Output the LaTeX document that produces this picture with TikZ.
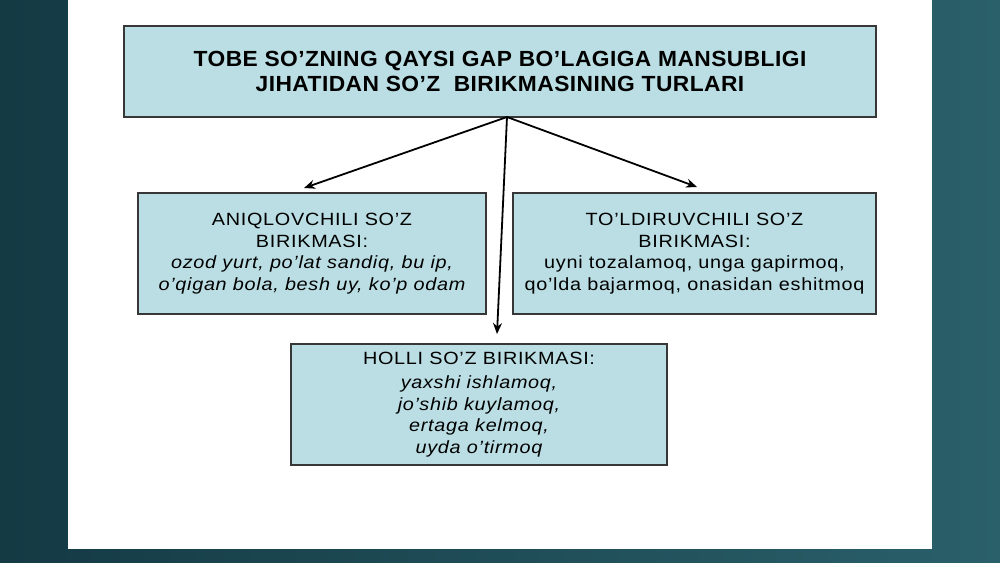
\documentclass[tikz,border=0pt]{standalone}
\usepackage{fontspec}
\setmainfont{Liberation Sans}
\newfontfamily\titlefam[FakeStretch=1.04,LetterSpace=2]{Liberation Sans}
\newfontfamily\bodyfam[FakeStretch=1.12,LetterSpace=4]{Liberation Sans}
\usetikzlibrary{arrows.meta}
\definecolor{boxfill}{RGB}{186,222,227}
\definecolor{boxline}{RGB}{55,55,55}
\definecolor{bgdark}{RGB}{20,58,68}
\definecolor{bglight}{RGB}{42,96,106}
\tikzset{
  box/.style={draw=boxline, line width=1.1pt, fill=boxfill, align=center, inner sep=0pt, text=black},
  bodyfont/.style={font=\bodyfam\fontsize{17.7}{21.5}\selectfont},
  conn/.style={draw=black, line width=1.8pt, -{Stealth[length=11pt,width=9pt]}}
}
\begin{document}
\begin{tikzpicture}[x=1pt,y=-1pt]
\useasboundingbox (0,0) rectangle (1000,562);
\shade[left color=bgdark, right color=bglight] (0,0) rectangle (1000,562);
\fill[white] (68,0) rectangle (932,549);
\node[box, minimum width=752pt, minimum height=91pt, font=\titlefam\fontsize{21.9}{25}\selectfont\bfseries] (top) at (500,71.5)
  {TOBE SO’ZNING QAYSI GAP BO’LAGIGA MANSUBLIGI\\ JIHATIDAN SO’Z\ \ BIRIKMASINING TURLARI};
\node[box, bodyfont, minimum width=348pt, minimum height=121pt] (left) at (312,253.5)
  {ANIQLOVCHILI SO’Z\\ BIRIKMASI:\\ \itshape ozod yurt, po’lat sandiq, bu ip,\\ \itshape o’qigan bola, besh uy, ko’p odam};
\node[box, bodyfont, minimum width=363pt, minimum height=121pt] (right) at (694.5,253.5)
  {TO’LDIRUVCHILI SO’Z\\ BIRIKMASI:\\ uyni tozalamoq, unga gapirmoq,\\ qo’lda bajarmoq, onasidan eshitmoq};
\node[box, bodyfont, minimum width=376pt, minimum height=121pt] (bottom) at (479,404.5)
  {HOLLI SO’Z BIRIKMASI:\\[3pt] \itshape yaxshi ishlamoq,\\ \itshape jo’shib kuylamoq,\\ \itshape ertaga kelmoq,\\ \itshape uyda o’tirmoq};
\coordinate (hub) at (507,117);
\coordinate (tipL) at (304,188);
\coordinate (tipR) at (697,187);
\coordinate (tipB) at (497,334);
\draw[conn] (hub) -- (tipL);
\draw[conn] (hub) -- (tipR);
\draw[conn] (hub) -- (tipB);
\end{tikzpicture}
\end{document}
